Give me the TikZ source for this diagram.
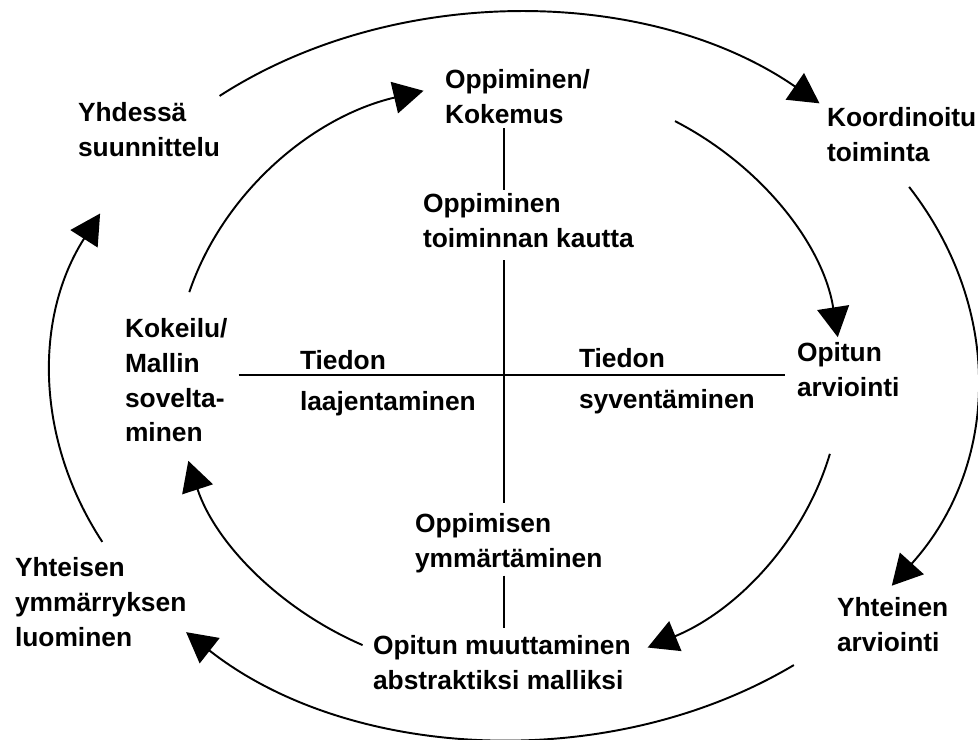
\documentclass[tikz,border=0pt]{standalone}
\usepackage{fontspec}
\setmainfont{Liberation Sans}
\usetikzlibrary{arrows.meta,calc}

\begin{document}
\begin{tikzpicture}[
  x=0.02cm,y=0.02cm,
  txt/.style={anchor=north west,inner sep=0pt,outer sep=0pt,align=left,
              font=\fontsize{15}{19.9}\selectfont\bfseries},
  arr/.style={-{Triangle[length=0.6cm,width=0.64cm]},line width=1.1pt},
  axisline/.style={line width=1.1pt}
]
\useasboundingbox (0,0) rectangle (978,740);

%% Inner cycle labels
\node[txt] (koke)    at (445,671) {Oppiminen/\\Kokemus};
\node[txt] (toim)    at (423,547) {Oppiminen\\toiminnan kautta};
\node[txt] (kokeilu) at (125,422) {Kokeilu/\\Mallin\\sovelta-\\minen};
\node[txt] (laaj)    at (300,390) {Tiedon\\[0.12cm]laajentaminen};
\node[txt] (syv)     at (579,392) {Tiedon\\[0.12cm]syventäminen};
\node[txt] (arv)     at (797,398) {Opitun\\arviointi};
\node[txt] (ymm)     at (415,227) {Oppimisen\\ymmärtäminen};
\node[txt] (malli)   at (373,105) {Opitun muuttaminen\\abstraktiksi malliksi};

%% Outer cycle labels
\node[txt] (yhds)    at (78,638)  {Yhdessä\\suunnittelu};
\node[txt] (koord)   at (827,633) {Koordinoitu\\toiminta};
\node[txt] (yharv)   at (837,143) {Yhteinen\\arviointi};
\node[txt] (yhteis)  at (15,183)  {Yhteisen\\ymmärryksen\\luominen};

%% Axes
\coordinate (ax) at (504,365);
\draw[axisline,shorten <=0.1cm,shorten >=0.06cm] (koke.south -| ax) -- (toim.north -| ax);
\draw[axisline,shorten <=0.26cm,shorten >=0.2cm] (toim.south -| ax) -- (ymm.north -| ax);
\draw[axisline,shorten <=0.06cm,shorten >=0.14cm] (ymm.south -| ax) -- (malli.north -| ax);
\draw[axisline,shorten <=0.22cm,shorten >=0.24cm] (kokeilu.east |- ax) -- (arv.west |- ax);

%% Arc ends
\coordinate (oc) at (514,364);
\coordinate (ic) at (508,362);
\coordinate (o1) at ($(oc)+(129.5:9.26cm and 7.26cm)$);
\coordinate (o2) at ($(oc)+(31.4:9.26cm and 7.26cm)$);
\coordinate (o3) at ($(oc)+(-52.8:9.26cm and 7.26cm)$);
\coordinate (o4) at ($(oc)+(207.2:9.26cm and 7.26cm)$);
\coordinate (i1) at ($(ic)+(163.2:6.66cm and 5.94cm)$);
\coordinate (i2) at ($(ic)+(59.9:6.66cm and 5.94cm)$);
\coordinate (i3) at ($(ic)+(-14.8:6.66cm and 5.94cm)$);
\coordinate (i4) at ($(ic)+(244.1:6.66cm and 5.94cm)$);

%% Outer cycle
\draw[arr] (o1) arc[start angle=129.5,end angle=48.7,x radius=9.26cm,y radius=7.26cm];
\draw[arr] (o2) arc[start angle=31.4,end angle=-35.3,x radius=9.26cm,y radius=7.26cm];
\draw[arr] (o3) arc[start angle=-52.8,end angle=-135.1,x radius=9.26cm,y radius=7.26cm];
\draw[arr] (o4) arc[start angle=207.2,end angle=153.4,x radius=9.26cm,y radius=7.26cm];

%% Inner cycle
\draw[arr] (i1) arc[start angle=163.2,end angle=104.7,x radius=6.66cm,y radius=5.94cm];
\draw[arr] (i2) arc[start angle=59.9,end angle=7.9,x radius=6.66cm,y radius=5.94cm];
\draw[arr] (i3) arc[start angle=-14.8,end angle=-65.2,x radius=6.66cm,y radius=5.94cm];
\draw[arr] (i4) arc[start angle=244.1,end angle=196.2,x radius=6.66cm,y radius=5.94cm];

\end{tikzpicture}
\end{document}
